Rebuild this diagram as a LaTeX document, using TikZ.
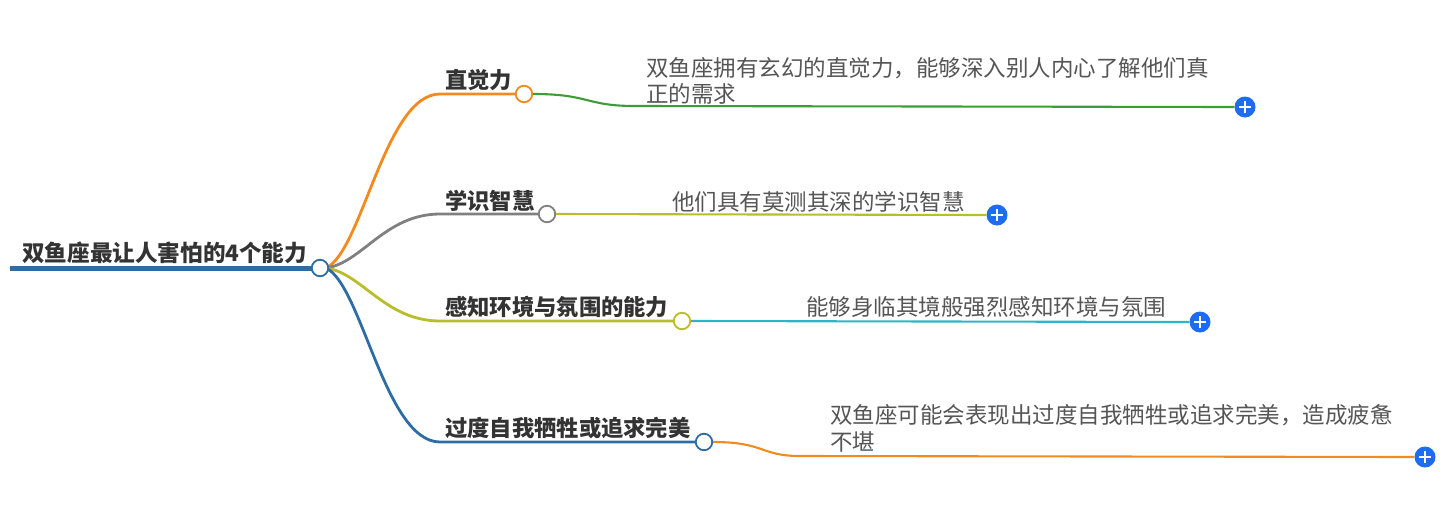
\documentclass[tikz,border=0pt]{standalone}
\usepackage{fontspec}
\newfontfamily\cjk{Noto Sans CJK SC}
\definecolor{rootblue}{HTML}{2E6DA4}
\definecolor{brorange}{HTML}{F28A1E}
\definecolor{brgreen}{HTML}{3A9E35}
\definecolor{brgray}{HTML}{808080}
\definecolor{brolive}{HTML}{B8BD2B}
\definecolor{brcyan}{HTML}{2BB5C9}
\definecolor{plusblue}{HTML}{1D6CF2}
\definecolor{darktext}{HTML}{333333}
\definecolor{leaftext}{HTML}{555555}
\begin{document}
\begin{tikzpicture}[x=1pt,y=-1pt,
  hub/.style={circle,draw,fill=white,line width=1.8pt,minimum size=16.5pt,inner sep=0},
  plusbtn/.style={circle,fill=plusblue,minimum size=21pt,inner sep=0},
  rootstyle/.style={anchor=west,inner sep=0,font=\cjk\bfseries\fontsize{22.6}{26}\selectfont,text=darktext},
  topic/.style={anchor=west,inner sep=0,font=\cjk\bfseries\fontsize{22.3}{26}\selectfont,text=darktext},
  leaf/.style={anchor=west,inner sep=0,font=\cjk\fontsize{22.5}{26.5}\selectfont,text=leaftext,align=left},
  br/.style={line width=2.8pt},
  lf/.style={line width=2.1pt},
  pl/.style={white,line width=2pt}]
\useasboundingbox (0,0) rectangle (1450,512);

% root
\node[rootstyle] (root) at (22,253) {双鱼座最让人害怕的4个能力};
\coordinate (rs) at (10,268);
\draw[rootblue,line width=5pt] (rs) -- (312,268);

% topics
\node[topic] (t1) at (445,80) {直觉力};
\node[topic] (t2) at (445,201) {学识智慧};
\node[topic] (t3) at (445,307) {感知环境与氛围的能力};
\node[topic] (t4) at (445,428) {过度自我牺牲或追求完美};

\coordinate (b1) at (440,94);
\coordinate (b2) at (440,214);
\coordinate (b3) at (440,321);
\coordinate (b4) at (440,442);

\draw[brorange,br] (326,268) .. controls (362,252) and (385,94) .. (b1) -- (516,94);
\draw[brgray,br] (326,268) .. controls (362,263) and (385,214) .. (b2) -- (539,214);
\draw[brolive,br] (326,268) .. controls (362,273) and (385,321) .. (b3) -- (674,321);
\draw[rootblue,br] (326,268) .. controls (362,285) and (385,442) .. (b4) -- (696,442);

\node[hub,draw=rootblue] (r0) at (320,268) {};
\node[hub,draw=brorange] (h1) at (524,94) {};
\node[hub,draw=brgray] (h2) at (547,214) {};
\node[hub,draw=brolive] (h3) at (682,321) {};
\node[hub,draw=rootblue] (h4) at (704,442) {};

% leaves
\node[leaf] (c1) at (646,81) {双鱼座拥有玄幻的直觉力，能够深入别人内心了解他们真\\正的需求};
\node[leaf] (c2) at (672,202) {他们具有莫测其深的学识智慧};
\node[leaf] (c3) at (806,307) {能够身临其境般强烈感知环境与氛围};
\node[leaf] (c4) at (830,428.5) {双鱼座可能会表现出过度自我牺牲或追求完美，造成疲惫\\不堪};

\node[plusbtn] (p1) at (1245,107) {};
\node[plusbtn] (p2) at (997,215) {};
\node[plusbtn] (p3) at (1200,322) {};
\node[plusbtn] (p4) at (1425,457) {};

\coordinate (l1) at (635,106);
\coordinate (l4) at (800,456);
\draw[brgreen,lf] (h1.east) .. controls (590,94) and (585,106) .. (l1) -- (p1.west);
\draw[brolive,lf] (h2.east) -- (p2.west);
\draw[brcyan,lf] (h3.east) -- (p3.west);
\draw[brorange,lf] (h4.east) .. controls (765,442) and (760,456) .. (l4) -- (p4.west);

\foreach \p in {p1,p2,p3,p4}{
  \draw[pl] ([xshift=-6pt]\p.center) -- ([xshift=6pt]\p.center);
  \draw[pl] ([yshift=-6pt]\p.center) -- ([yshift=6pt]\p.center);
}
\end{tikzpicture}
\end{document}
